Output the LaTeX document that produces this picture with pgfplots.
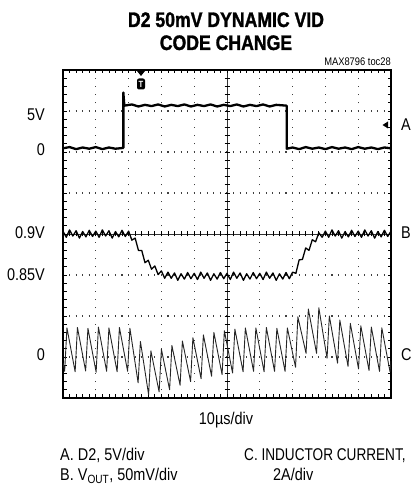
\documentclass[border=0pt]{standalone}
\usepackage{pgfplots}
\pgfplotsset{compat=1.18}
\usepackage{fontspec}
\setmainfont[FakeStretch=0.85]{Liberation Sans}
\newfontfamily\titlefont[FakeStretch=0.84,FakeBold=1.3]{Liberation Sans}
\newfontfamily\narrowfont[FakeStretch=0.8]{Liberation Sans}
\begin{document}
\begin{tikzpicture}[x=1pt,y=1pt]
% graticule (decoration)
\tikzset{vdot/.style={black!75,line width=1.1pt,dash pattern=on 1.1pt off 7.1pt,dash phase=0.55pt},
         hdot/.style={black!75,line width=1.1pt,dash pattern=on 1.1pt off 5.46pt,dash phase=0.55pt}}
\foreach \i in {1,2,3,4,6,7,8,9} \draw[vdot] ({63+32.8*\i},89) -- ({63+32.8*\i},417);
\foreach \j in {1,2,3,5,6,7} \draw[hdot] (63,{89+41*\j}) -- (391,{89+41*\j});
\draw[line width=0.5pt,black!80] (227,89) -- (227,417);
\draw[line width=0.5pt,black!80] (63,253) -- (391,253);
\foreach \k in {1,...,39} {
  \draw[line width=0.7pt] (224.5,{89+8.2*\k}) -- (229.5,{89+8.2*\k});
  \draw[line width=0.7pt] (63,{89+8.2*\k}) -- ++(3.5,0);
  \draw[line width=0.7pt] (391,{89+8.2*\k}) -- ++(-3.5,0);
}
\foreach \k in {1,...,49} {
  \draw[line width=0.7pt] ({63+6.56*\k},250.5) -- ({63+6.56*\k},255.5);
  \draw[line width=0.7pt] ({63+6.56*\k},417) -- ++(0,-3.5);
  \draw[line width=0.7pt] ({63+6.56*\k},89) -- ++(0,3.5);
}
\begin{axis}[at={(63pt,89pt)}, anchor=south west, scale only axis,
  width=328pt, height=328pt, xmin=0, xmax=10, ymin=0, ymax=8,
  ticks=none, axis line style={line width=2.6pt}, clip=true]
% A: D2
\addplot[black, line width=2.3pt, line join=round] coordinates {
(0,6.09) (0.2,6.12) (0.4,6.07) (0.6,6.11) (0.8,6.08) (1.0,6.12) (1.2,6.07) (1.4,6.11) (1.6,6.08) (1.84,6.1)
(1.84,7.45) (1.87,7.13) (2.1,7.16) (2.3,7.11) (2.5,7.15) (2.7,7.12) (2.9,7.16) (3.1,7.11) (3.3,7.15)
(3.5,7.12) (3.7,7.16) (3.9,7.11) (4.1,7.15) (4.3,7.12) (4.5,7.16) (4.7,7.11) (4.9,7.15) (5.1,7.12)
(5.3,7.16) (5.5,7.11) (5.7,7.15) (5.9,7.12) (6.1,7.16) (6.3,7.11) (6.5,7.15) (6.82,7.13)
(6.82,6.08) (7.0,6.11) (7.2,6.07) (7.4,6.12) (7.6,6.08) (7.8,6.11) (8.0,6.07) (8.2,6.12) (8.4,6.08)
(8.6,6.11) (8.8,6.07) (9.0,6.12) (9.2,6.08) (9.4,6.11) (9.6,6.07) (9.8,6.11) (10,6.09)};
% B: VOUT
\addplot[black, line width=1.3pt, line join=round] coordinates {
(0.0,4.07) (0.1,3.92) (0.2,4.10) (0.3,3.95) (0.4,4.08) (0.5,3.90) (0.6,4.06) (0.7,3.93) (0.8,4.09) (0.9,3.94)
(1.0,4.07) (1.1,3.92) (1.2,4.10) (1.3,3.95) (1.4,4.08) (1.5,3.90) (1.6,4.06) (1.7,3.93) (1.8,4.09) (1.9,3.94)
(2.0,4.07) (2.1,3.85) (2.2,3.90) (2.3,3.60) (2.4,3.60) (2.5,3.30) (2.6,3.36) (2.7,3.14) (2.8,3.22) (2.9,3.01)
(3.0,3.10) (3.1,2.92) (3.2,3.07) (3.3,2.92) (3.4,3.05) (3.5,2.87) (3.6,3.03) (3.7,2.90) (3.8,3.06) (3.9,2.91)
(4.0,3.04) (4.1,2.89) (4.2,3.07) (4.3,2.92) (4.4,3.05) (4.5,2.87) (4.6,3.03) (4.7,2.90) (4.8,3.06) (4.9,2.91)
(5.0,3.04) (5.1,2.89) (5.2,3.07) (5.3,2.92) (5.4,3.05) (5.5,2.87) (5.6,3.03) (5.7,2.90) (5.8,3.06) (5.9,2.91)
(6.0,3.04) (6.1,2.89) (6.2,3.07) (6.3,2.92) (6.4,3.05) (6.5,2.87) (6.6,3.03) (6.7,2.90) (6.8,3.06) (6.9,2.91)
(7.0,3.07) (7.1,3.04) (7.2,3.37) (7.3,3.38) (7.4,3.66) (7.5,3.60) (7.6,3.86) (7.7,3.81) (7.8,4.03) (7.9,3.92)
(8.0,4.07) (8.1,3.92) (8.2,4.10) (8.3,3.95) (8.4,4.08) (8.5,3.90) (8.6,4.06) (8.7,3.93) (8.8,4.09) (8.9,3.94)
(9.0,4.07) (9.1,3.92) (9.2,4.10) (9.3,3.95) (9.4,4.08) (9.5,3.90) (9.6,4.06) (9.7,3.93) (9.8,4.09) (9.9,3.94)
(10.0,4.07)};
% C: inductor current
\addplot[black!85, line width=0.9pt, line join=round] coordinates {
(0,0.85) (0.05,0.65) (0.12,1.71) (0.37,0.64) (0.44,1.72) (0.69,0.66) (0.76,1.70) (1.01,0.63) (1.08,1.73)
(1.33,0.65) (1.40,1.71) (1.65,0.64) (1.72,1.72) (1.97,0.65) (2.04,1.70) (2.29,0.37) (2.36,1.38)
(2.61,0.08) (2.68,1.15) (2.93,0.15) (3.00,1.19) (3.25,0.20) (3.32,1.28) (3.57,0.31) (3.64,1.39)
(3.89,0.40) (3.96,1.47) (4.21,0.47) (4.28,1.54) (4.53,0.53) (4.60,1.60) (4.85,0.57) (4.92,1.64)
(5.17,0.61) (5.24,1.68) (5.49,0.64) (5.56,1.71) (5.81,0.65) (5.88,1.71) (6.13,0.64) (6.20,1.72)
(6.45,0.65) (6.52,1.70) (6.77,0.65) (6.84,1.71) (7.09,0.75) (7.16,1.98) (7.41,1.09) (7.48,2.17)
(7.73,1.09) (7.80,2.20) (8.05,0.97) (8.12,2.00) (8.37,0.85) (8.44,1.90) (8.69,0.77) (8.76,1.82)
(9.01,0.71) (9.08,1.76) (9.33,0.67) (9.40,1.73) (9.65,0.65) (9.72,1.71) (9.97,0.64) (10,0.90)};
\end{axis}
% markers
\fill (137,416) -- (145,416) -- (141,411) -- cycle;
\node[fill=black, rounded corners=2pt, inner sep=1.2pt, minimum width=8pt, minimum height=11pt, text=white, font=\bfseries\fontsize{9}{9}\selectfont] at (141,403) {T};
\fill (382.5,362) -- (388,365.5) -- (388,358.5) -- cycle;
% titles and labels
\node[anchor=base, font=\titlefont\bfseries\fontsize{21}{21}\selectfont] at (226,460) {D2 50mV DYNAMIC VID};
\node[anchor=base, font=\titlefont\bfseries\fontsize{21}{21}\selectfont] at (226,437) {CODE CHANGE};
\node[anchor=base east, inner sep=0pt, font=\fontsize{11}{11}\selectfont] at (391,421) {MAX8796 toc28};
\tikzset{lbl/.style={inner sep=0pt, font=\fontsize{17}{17}\selectfont}}
\node[lbl, anchor=east] at (45,372) {5V};
\node[lbl, anchor=east] at (45,337) {0};
\node[lbl, anchor=east] at (45,254) {0.9V};
\node[lbl, anchor=east] at (45,212) {0.85V};
\node[lbl, anchor=east] at (45,132) {0};
\node[lbl, anchor=west] at (401,362) {A};
\node[lbl, anchor=west] at (401,254) {B};
\node[lbl, anchor=west] at (401,132) {C};
\node[lbl, anchor=base] at (226,62) {10µs/div};
\node[lbl, anchor=base west] at (60,27) {A. D2, 5V/div};
\node[lbl, anchor=base west] at (60,6) {B. V\textsubscript{OUT}, 50mV/div};
\node[inner sep=0pt, font=\narrowfont\fontsize{17}{17}\selectfont, anchor=base west] at (244,27) {C. INDUCTOR CURRENT,};
\node[lbl, anchor=base west] at (273,6) {2A/div};
\pgfresetboundingbox
\useasboundingbox (0,0) rectangle (414,487);
\end{tikzpicture}
\end{document}
